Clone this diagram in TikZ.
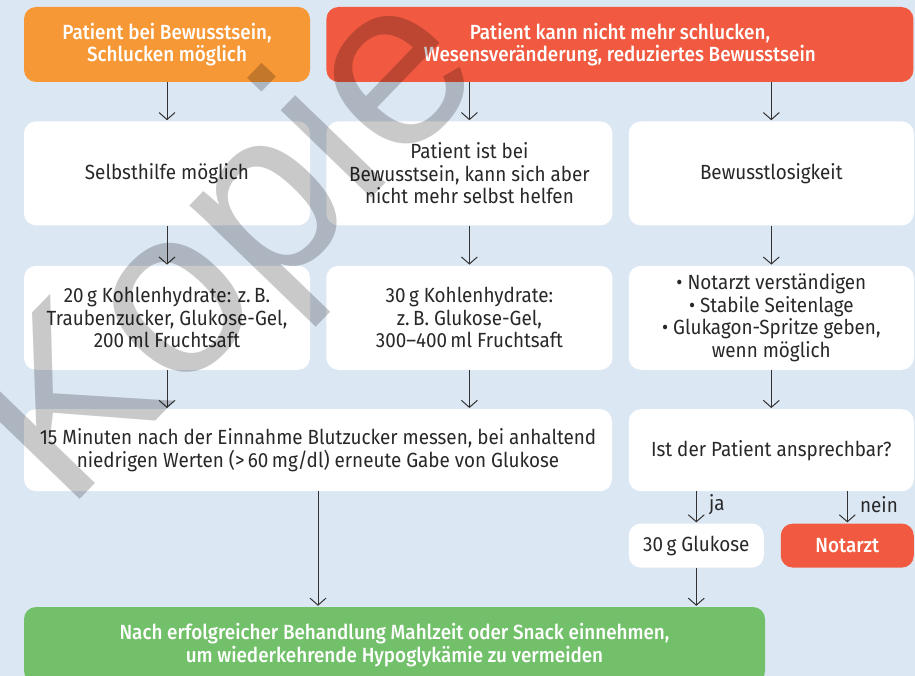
\documentclass[tikz,border=0pt]{standalone}
\usepackage{fontspec}
\setmainfont{Fira Sans}[FakeStretch=0.92,BoldFont={Fira Sans Medium}]
\newfontfamily\stampfont{Liberation Sans}
\usetikzlibrary{positioning,arrows.meta}
\definecolor{hypobg}{RGB}{220,231,244}
\definecolor{hypoorange}{RGB}{247,152,55}
\definecolor{hypored}{RGB}{241,90,64}
\definecolor{hypogreen}{RGB}{114,193,106}
\definecolor{hypotext}{RGB}{40,40,40}
\definecolor{hypoline}{RGB}{50,50,50}

\begin{document}
\begin{tikzpicture}[x=1pt,y=-1pt,
  node distance=39pt and 16pt,
  every node/.style={font=\fontsize{20.5}{22.5}\selectfont,text=hypotext},
  box/.style={rectangle,rounded corners=12pt,fill=white,minimum width=286pt,minimum height=104pt,align=center,inner sep=4pt},
  head/.style={box,text=white,font=\fontsize{20.5}{22.5}\selectfont\bfseries,minimum height=75pt},
  arr/.style={-{Straight Barb[length=7pt,width=16pt]},line width=1pt,draw=hypoline,shorten >=1pt}
]
\fill[hypobg] (0,0) rectangle (915,676);
\useasboundingbox (0,0) rectangle (915,676);

% top row
\node[head,fill=hypoorange] (conscious) at (167,44.5) {Patient bei Bewusstsein,\\Schlucken möglich};
\node[head,fill=hypored,minimum width=587pt,right=16pt of conscious] (noswallow) {Patient kann nicht mehr schlucken,\\Wesensveränderung, reduziertes Bewusstsein};

% second row
\node[box,below=39pt of conscious] (selfhelp) {Selbsthilfe möglich};
\node[box,right=16pt of selfhelp] (nohelp) {Patient ist bei\\Bewusstsein, kann sich aber\\nicht mehr selbst helfen};
\node[box,minimum width=285pt,right=16pt of nohelp] (unconscious) {Bewusstlosigkeit};

% third row
\node[box,below=40pt of selfhelp] (carb20) {20\,g Kohlenhydrate: z.\,B.\\Traubenzucker, Glukose-Gel,\\200\,ml Fruchtsaft};
\node[box,right=16pt of carb20] (carb30) {30\,g Kohlenhydrate:\\z.\,B. Glukose-Gel,\\300--400\,ml Fruchtsaft};
\node[box,minimum width=285pt,right=16pt of carb30] (steps) {• Notarzt verständigen\\• Stabile Seitenlage\\• Glukagon-Spritze geben,\\wenn möglich};

% fourth row
\node[box,minimum width=588pt,minimum height=82pt,anchor=north west] (measure) at ([yshift=-39pt]carb20.south west) {15 Minuten nach der Einnahme Blutzucker messen, bei anhaltend\\niedrigen Werten (>\,60\,mg/dl) erneute Gabe von Glukose};
\node[box,minimum width=285pt,minimum height=82pt,below=39pt of steps] (ask) {Ist der Patient ansprechbar?};

% answers
\node[box,minimum width=135pt,minimum height=44pt,anchor=north west] (glucose) at ([yshift=-32pt]ask.south west) {30\,g Glukose};
\node[head,fill=hypored,minimum width=133pt,minimum height=44pt,anchor=north east] (emergency) at ([yshift=-32pt]ask.south east) {Notarzt};

% final
\node[head,fill=hypogreen,minimum width=741pt,minimum height=76pt,anchor=north west] (meal) at ([yshift=-39pt]measure.west |- glucose.south) {Nach erfolgreicher Behandlung Mahlzeit oder Snack einnehmen,\\um wiederkehrende Hypoglykämie zu vermeiden};

\draw[arr] (conscious) -- (selfhelp);
\draw[arr] (nohelp.north |- noswallow.south) -- (nohelp);
\draw[arr] (unconscious.north |- noswallow.south) -- (unconscious);
\draw[arr] (selfhelp) -- (carb20);
\draw[arr] (nohelp) -- (carb30);
\draw[arr] (unconscious) -- (steps);
\draw[arr] (carb20) -- (carb20.south |- measure.north);
\draw[arr] (carb30) -- (carb30.south |- measure.north);
\draw[arr] (steps) -- (ask);
\draw[arr] (glucose.north |- ask.south) -- node[right=9pt,pos=0.4] {ja} (glucose);
\draw[arr] (emergency.north |- ask.south) -- node[right=9pt,pos=0.4] {nein} (emergency);
\draw[arr] (measure) -- (measure.south |- meal.north);
\draw[arr] (glucose) -- (glucose.south |- meal.north);

% watermark
\node[font=\stampfont\fontsize{238}{238}\selectfont,text=black,text opacity=0.21,rotate=46] (stamp) at (234,252) {Kopie};
\end{tikzpicture}
\end{document}
